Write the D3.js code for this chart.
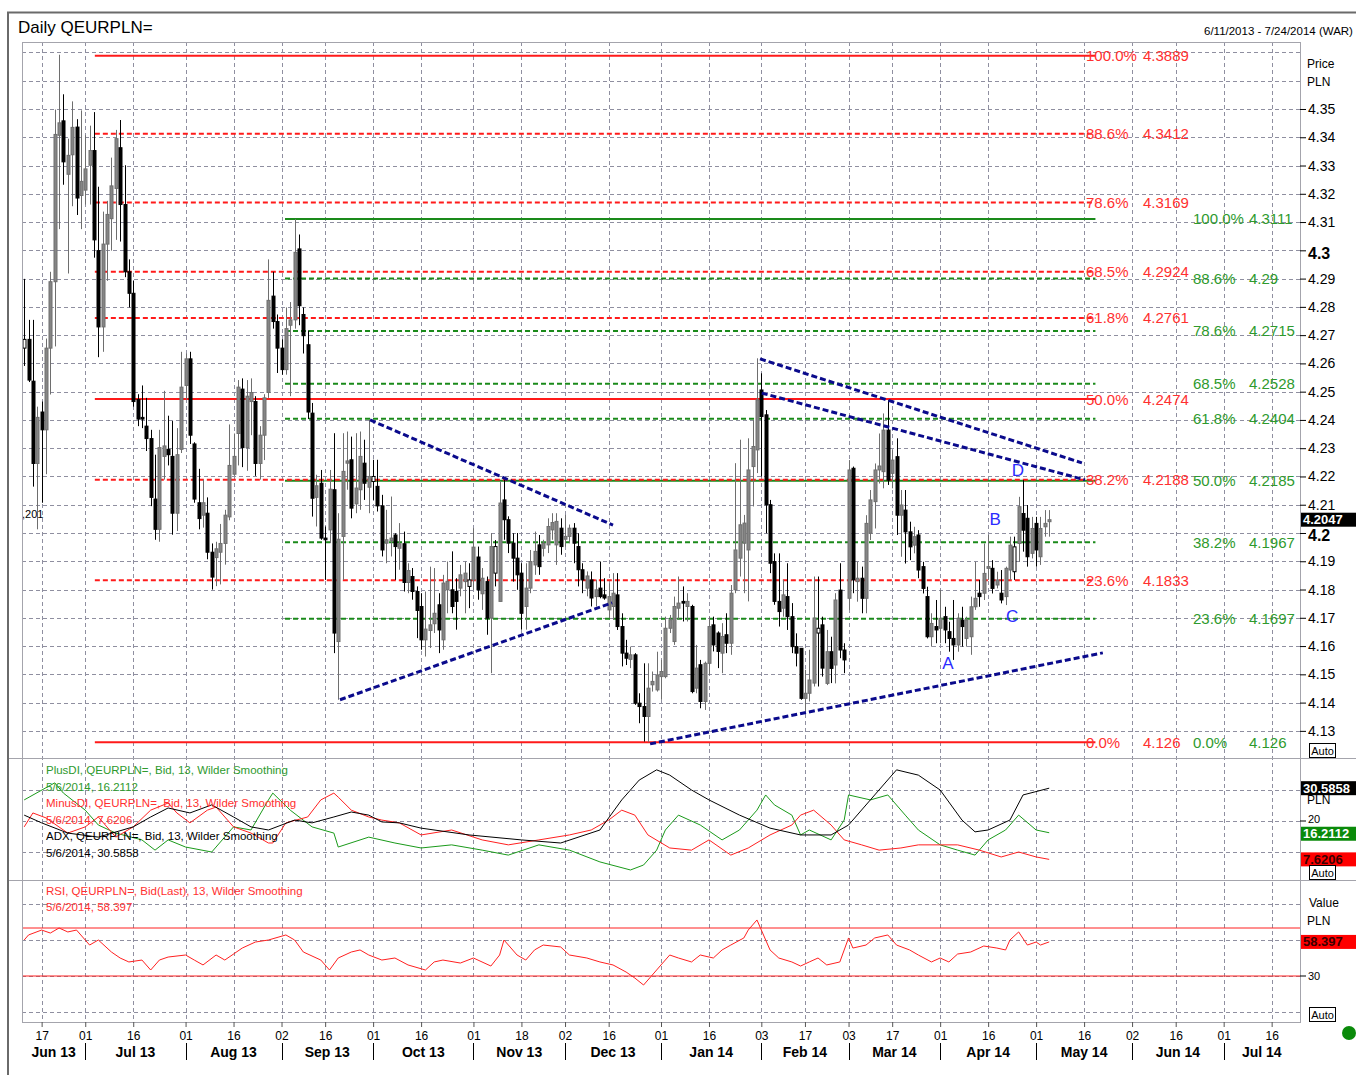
<!DOCTYPE html>
<html>
<head>
<meta charset="utf-8">
<script src="https://cdn.jsdelivr.net/npm/d3@7"></script>
<style>
  body { margin: 0; background: #fff; }
  text { font-family: "Liberation Sans", Arial, sans-serif; }
  .narrow { font-family: "Liberation Sans Narrow", "Arial Narrow", "Liberation Sans", sans-serif; }
</style>
</head>
<body>
<svg id="chart" width="1356" height="1075"></svg>
<script>
// ---- data ----
const firstDay = new Date(2013, 5, 11), lastDay = new Date(2014, 6, 24);

const openPrice = [4.2654,4.2685,4.2537,4.2246,4.2428,4.2365,4.2654,4.2889,4.3407,4.3458,4.3269,4.3338,4.3436,4.3194,4.3213,4.3301,4.3353,4.2999,4.2729,4.3022,
  4.3112,4.3219,4.3363,4.3162,4.2924,4.2848,4.2472,4.2409,4.2378,4.2334,4.2120,4.2013,4.2271,4.2296,4.2271,4.2070,4.2296,4.2522,4.2616,4.2315,
  4.2107,4.2063,4.2070,4.1932,4.1913,4.1932,4.1963,4.2057,4.2208,4.2352,4.2509,4.2302,4.2465,4.2465,4.2246,4.2346,4.2497,4.2838,4.2748,4.2654,
  4.2578,4.2735,4.2754,4.3005,4.2773,4.2666,4.2424,4.2126,4.2176,4.1982,4.2011,4.2153,4.1616,4.1988,4.2247,4.2259,4.2103,4.2153,4.2247,4.2162,
  4.2182,4.2165,4.2096,4.1964,4.1973,4.1993,4.1946,4.1962,4.1825,4.1846,4.1793,4.1740,4.1622,4.1655,4.1679,4.1746,4.1622,4.1799,4.1799,4.1793,
  4.1805,4.1828,4.1811,4.1834,4.1915,4.1785,4.1828,4.1699,4.1858,4.1758,4.2117,4.2047,4.1964,4.1911,4.1858,4.1740,4.1805,4.1887,4.1958,4.1946,
  4.1958,4.2011,4.1958,4.2017,4.1978,4.1988,4.2017,4.1952,4.1870,4.1805,4.1834,4.1775,4.1805,4.1781,4.1728,4.1740,4.1781,4.1669,4.1575,4.1553,
  4.1569,4.1398,4.1386,4.1351,4.1463,4.1445,4.1492,4.1492,4.1663,4.1616,4.1734,4.1758,4.1740,4.1740,4.1451,4.1534,4.1404,4.1539,4.1675,4.1646,
  4.1575,4.1640,4.1610,4.1799,4.1911,4.1964,4.1940,4.2235,4.2294,4.2506,4.2418,4.2100,4.1899,4.1758,4.1734,4.1775,4.1704,4.1598,4.1592,4.1415,
  4.1433,4.1469,4.1646,4.1675,4.1468,4.1580,4.1533,4.1798,4.1586,4.1769,4.2229,4.1828,4.1840,4.1769,4.1999,4.2111,4.2223,4.2217,4.2364,4.2211,
  4.2270,4.2063,4.2081,4.2004,4.1957,4.1993,4.1881,4.1775,4.1633,4.1669,4.1663,4.1704,4.1651,4.1627,4.1604,4.1692,4.1627,4.1633,4.1739,4.1787,
  4.1787,4.1875,4.1875,4.1816,4.1787,4.1775,4.1869,4.1863,4.1963,4.2069,4.2052,4.1928,4.2034,4.1916,4.2022,4.2040];
const highPrice = [4.2899,4.2754,4.2754,4.2447,4.2465,4.2688,4.2924,4.3498,4.3692,4.3552,4.3395,4.3527,4.3464,4.3495,4.3407,4.3441,4.3489,4.3225,4.3137,4.3175,
  4.3328,4.3426,4.3461,4.3301,4.2968,4.2892,4.2491,4.2522,4.2478,4.2365,4.2277,4.2365,4.2503,4.2415,4.2396,4.2371,4.2641,4.2635,4.2641,4.2321,
  4.2227,4.2189,4.2126,4.1963,4.1969,4.2032,4.2082,4.2384,4.2352,4.2541,4.2547,4.2541,4.2547,4.2484,4.2378,4.2491,4.2968,4.2924,4.2773,4.2685,
  4.2798,4.2817,4.3111,4.3056,4.2798,4.2717,4.2460,4.2206,4.2223,4.2023,4.2223,4.2353,4.2070,4.2353,4.2359,4.2341,4.2353,4.2359,4.2330,4.2400,
  4.2259,4.2259,4.2135,4.2082,4.2129,4.1999,4.2035,4.2005,4.1893,4.1876,4.1811,4.1787,4.1793,4.1881,4.1876,4.1787,4.1852,4.1899,4.1935,4.1840,
  4.1887,4.1899,4.1893,4.2017,4.1952,4.1876,4.1846,4.1999,4.1975,4.2182,4.2188,4.2059,4.1999,4.2000,4.1893,4.1893,4.1940,4.2005,4.1993,4.1976,
  4.2052,4.2070,4.2070,4.2052,4.2064,4.2030,4.2035,4.1999,4.1893,4.1864,4.1864,4.1835,4.1899,4.1840,4.1822,4.1858,4.1858,4.1716,4.1622,4.1598,
  4.1575,4.1433,4.1539,4.1539,4.1510,4.1580,4.1551,4.1704,4.1710,4.1775,4.1846,4.1811,4.1787,4.1746,4.1604,4.1551,4.1545,4.1704,4.1704,4.1652,
  4.1681,4.1716,4.1816,4.2247,4.2330,4.2064,4.2335,4.2400,4.2618,4.2565,4.2435,4.2117,4.1928,4.1928,4.1834,4.1893,4.1752,4.1645,4.1592,4.1516,
  4.1587,4.1846,4.1846,4.1704,4.1657,4.1633,4.1787,4.1893,4.1610,4.2258,4.2235,4.1898,4.1881,4.2063,4.2152,4.2246,4.2352,4.2423,4.2470,4.2293,
  4.2335,4.2152,4.2152,4.2040,4.2022,4.2010,4.1898,4.1810,4.1716,4.1763,4.1798,4.1739,4.1686,4.1763,4.1716,4.1739,4.1704,4.1775,4.1898,4.1834,
  4.1963,4.1993,4.1904,4.1863,4.1869,4.1881,4.1987,4.1987,4.2128,4.2187,4.2099,4.2057,4.2057,4.2057,4.2081,4.2081];
const lowPrice = [4.2591,4.2534,4.2164,4.2013,4.2107,4.2208,4.2490,4.2660,4.3075,4.3232,4.2918,4.3156,4.3125,4.3075,4.3162,4.3162,4.2974,4.2622,4.2641,4.2892,
  4.2999,4.3037,4.3031,4.2905,4.2798,4.2447,4.2378,4.2371,4.2290,4.2095,4.1976,4.1969,4.2189,4.2239,4.1994,4.2007,4.2283,4.2472,4.2315,4.2107,
  4.2013,4.2019,4.1907,4.1800,4.1812,4.1818,4.1888,4.2045,4.2202,4.2239,4.2233,4.2220,4.2346,4.2202,4.2189,4.2258,4.2478,4.2723,4.2566,4.2560,
  4.2560,4.2484,4.2723,4.2735,4.2635,4.2403,4.2058,4.2023,4.1976,4.1834,4.1964,4.1575,4.1410,4.1834,4.2153,4.2052,4.2070,4.2082,4.2117,4.2070,
  4.2117,4.2076,4.1917,4.1893,4.1917,4.1834,4.1870,4.1793,4.1787,4.1764,4.1628,4.1587,4.1563,4.1593,4.1646,4.1575,4.1587,4.1716,4.1716,4.1658,
  4.1776,4.1716,4.1734,4.1799,4.1764,4.1728,4.1640,4.1504,4.1811,4.1758,4.1976,4.1929,4.1828,4.1799,4.1658,4.1658,4.1787,4.1852,4.1852,4.1917,
  4.1929,4.1976,4.1887,4.1923,4.1952,4.1964,4.1893,4.1811,4.1787,4.1776,4.1740,4.1740,4.1769,4.1764,4.1699,4.1693,4.1657,4.1528,4.1533,4.1522,
  4.1392,4.1327,4.1262,4.1260,4.1439,4.1439,4.1410,4.1486,4.1646,4.1604,4.1693,4.1687,4.1687,4.1433,4.1433,4.1380,4.1374,4.1498,4.1581,4.1522,
  4.1504,4.1575,4.1569,4.1787,4.1846,4.1787,4.1758,4.2094,4.2212,4.2200,4.1999,4.1858,4.1746,4.1669,4.1704,4.1657,4.1575,4.1528,4.1410,4.1368,
  4.1404,4.1457,4.1457,4.1492,4.1462,4.1469,4.1468,4.1557,4.1504,4.1728,4.1787,4.1757,4.1716,4.1716,4.1975,4.2016,4.2175,4.2158,4.2170,4.2158,
  4.1993,4.1916,4.1892,4.1904,4.1928,4.1840,4.1786,4.1627,4.1598,4.1610,4.1610,4.1610,4.1580,4.1551,4.1580,4.1598,4.1598,4.1569,4.1728,4.1739,
  4.1763,4.1834,4.1786,4.1804,4.1751,4.1745,4.1834,4.1834,4.1898,4.1934,4.1881,4.1910,4.1881,4.1887,4.1987,4.1987];
const closePrice = [4.2685,4.2541,4.2246,4.2409,4.2365,4.2654,4.2889,4.3410,4.3451,4.3313,4.3336,4.3435,4.3185,4.3244,4.3288,4.3353,4.3037,4.2729,4.3022,4.3127,
  4.3228,4.3395,4.3162,4.2924,4.2848,4.2465,4.2403,4.2403,4.2334,4.2126,4.2013,4.2302,4.2308,4.2277,4.2070,4.2277,4.2516,4.2616,4.2346,4.2120,
  4.2051,4.2107,4.1932,4.1844,4.1944,4.1963,4.2063,4.2239,4.2271,4.2516,4.2302,4.2484,4.2497,4.2246,4.2346,4.2478,4.2823,4.2748,4.2654,4.2578,
  4.2723,4.2754,4.2993,4.2804,4.2698,4.2428,4.2123,4.2167,4.1982,4.1976,4.2155,4.1646,4.1978,4.2218,4.2255,4.2088,4.2159,4.2271,4.2176,4.2200,
  4.2200,4.2096,4.1940,4.1976,4.1982,4.1952,4.1962,4.1825,4.1867,4.1793,4.1726,4.1622,4.1660,4.1675,4.1716,4.1657,4.1823,4.1829,4.1740,4.1758,
  4.1852,4.1858,4.1834,4.1950,4.1799,4.1840,4.1699,4.1952,4.1952,4.2106,4.2047,4.1964,4.1911,4.1852,4.1716,4.1805,4.1899,4.1935,4.1881,4.1964,
  4.2023,4.2037,4.2041,4.1952,4.1988,4.2017,4.1964,4.1870,4.1834,4.1848,4.1770,4.1799,4.1775,4.1770,4.1775,4.1787,4.1669,4.1575,4.1557,4.1569,
  4.1398,4.1386,4.1351,4.1451,4.1475,4.1498,4.1510,4.1663,4.1693,4.1740,4.1752,4.1752,4.1758,4.1439,4.1522,4.1404,4.1539,4.1669,4.1604,4.1581,
  4.1634,4.1610,4.1787,4.1940,4.2029,4.2035,4.2223,4.2306,4.2471,4.2412,4.2100,4.1893,4.1758,4.1722,4.1781,4.1704,4.1598,4.1575,4.1415,4.1433,
  4.1480,4.1699,4.1663,4.1522,4.1580,4.1521,4.1763,4.1586,4.1551,4.2223,4.1834,4.1840,4.1769,4.2034,4.2117,4.2223,4.2237,4.2364,4.2187,4.2258,
  4.2063,4.2099,4.2004,4.1951,4.1987,4.1869,4.1804,4.1633,4.1680,4.1657,4.1698,4.1657,4.1627,4.1604,4.1698,4.1669,4.1692,4.1739,4.1769,4.1775,
  4.1857,4.1881,4.1804,4.1834,4.1763,4.1875,4.1957,4.1951,4.2093,4.2010,4.1916,4.2016,4.1940,4.2016,4.2034,4.2047];

// fibonacci retracements: red swing 4.126 -> 4.3688, green swing 4.126 -> 4.3111
const fibLabels = ["100.0%", "88.6%", "78.6%", "68.5%", "61.8%", "50.0%", "38.2%", "23.6%", "0.0%"];
const redFib = [4.3688, 4.3412, 4.3169, 4.2924, 4.2761, 4.2474, 4.2188, 4.1833, 4.126];
const redFibText = ["4.3889", "4.3412", "4.3169", "4.2924", "4.2761", "4.2474", "4.2188", "4.1833", "4.126"];
const greenFib = [4.3111, 4.29, 4.2715, 4.2528, 4.2404, 4.2185, 4.1967, 4.1697, 4.126];
const greenFibText = ["4.3111", "4.29", "4.2715", "4.2528", "4.2404", "4.2185", "4.1967", "4.1697", "4.126"];
const solidFib = ["100.0%", "50.0%", "0.0%"];
const redFibFrom = 16.2, greenFibFrom = 59.8, fibTo = 245.6;   // trading-day index

// trend lines [day index, price]
const trendLines = [
  [[72.4, 4.1410], [134.8, 4.1753]],
  [[79.3, 4.2400], [135.0, 4.2028]],
  [[143.5, 4.1254], [247.3, 4.1576]],
  [[168.7, 4.2616], [242.5, 4.2248]],
  [[169.1, 4.2495], [243.2, 4.2188]]
];
const waveNames = ["A", "B", "C", "D"];
const waveDay = [211.8, 222.6, 226.5, 227.8];
const wavePrice = [4.154, 4.2046, 4.1703, 4.222];

// indicators [day index, value]
const plusDI = [[0,26.8],[7,32.3],[9,29],[14,23.5],[17,18.7],[21,16.1],[27,13.9],[30,10.6],[33,13.9],[37,11.6],[43,10],[48,18.1],[52,17.1],[56,26.8],[57,29],
  [61,23.5],[66,18.1],[71,16.1],[72,11.6],[79,14.8],[85,12.9],[91,11.3],[98,12.3],[105,10.6],[111,9],[118,12.3],[125,10.6],[132,6.8],[139,4.2],[142,5.8],
  [145,10.6],[147,17.1],[150,21.9],[155,18.7],[160,13.9],[164,17.1],[168,23.5],[170,28.4],[172,25.2],[176,21.9],[178,15.5],[180,17.1],[185,13.9],[188,20.3],
  [189,28.4],[194,26.8],[198,28.4],[202,21.9],[205,17.1],[210,12.3],[214,10.6],[218,9],[221,13.9],[225,17.1],[228,21.9],[232,17.1],[235,16.2112]];
const minusDI = [[0,18.1],[2,22.6],[5,21],[10,16.1],[14,18.1],[17,21.3],[21,14.8],[25,18.1],[29,23.5],[33,25.8],[35,22.6],[38,19.4],[42,23.5],[44,24.5],
  [48,18.1],[52,16.1],[56,12.9],[57,12.9],[60,19.4],[65,21.3],[68,26.8],[71,29],[72,27.7],[75,23.5],[79,21.3],[82,20.3],[86,19.4],[91,15.5],[98,17.1],
  [105,13.9],[111,12.3],[118,13.9],[125,15.5],[130,17.1],[134,20.3],[137,23.5],[140,21.9],[143,15.5],[148,11.3],[153,10.6],[157,13.9],[162,9],[166,11.3],
  [171,15.5],[176,18.7],[178,21.9],[181,23.5],[185,18.7],[188,13.9],[192,12.3],[196,10.6],[201,11.3],[205,12.3],[210,12.3],[214,12.3],[219,10.6],[224,8.4],
  [228,10],[232,8.4],[235,7.6206]];
const adx = [[0,21.9],[4,19.4],[10,16.1],[17,14.8],[25,18.1],[29,21.3],[33,24.2],[38,22.6],[43,25.2],[48,21.3],[52,18.1],[56,17.1],[62,20.3],[66,19.4],
  [71,21.3],[75,22.9],[79,21.9],[82,19.7],[86,19.4],[91,17.7],[102,15.5],[114,13.9],[123,12.9],[132,17.1],[137,26.8],[141,33.2],[145,36.5],[148,34.8],
  [153,30],[157,26.8],[164,21.9],[171,17.7],[178,15.5],[185,15.5],[189,18.7],[194,26.8],[200,36.5],[205,34.8],[210,30],[215,20.3],[218,16.5],[221,17.1],
  [226,20.3],[229,28.4],[235,30.5858]];
const rsi = [[0,60],[1,64.2],[4,68.3],[6,65.8],[8,70],[10,66.7],[12,68.3],[15,55.8],[17,60],[20,50],[22,45],[24,41.7],[27,43.3],[29,35],[31,43.3],
  [33,45.8],[37,47.5],[39,43.3],[41,39.2],[44,47.5],[46,43.3],[50,53.3],[53,58.3],[56,60],[60,64.2],[62,60],[64,50],[68,43.3],[70,35],[72,45],[75,50],
  [77,51.7],[79,47.5],[82,43.3],[85,45],[88,39.2],[92,35],[94,41.7],[96,43.3],[100,40.8],[103,45],[107,38.3],[109,47.5],[110,60],[113,47.5],[115,43.3],
  [117,51.7],[119,55.8],[123,54.2],[125,47.5],[129,45],[132,41.7],[135,39.2],[138,33.3],[140,28.3],[142,22.5],[144,30.8],[146,39.2],[148,47.5],[150,45],
  [153,41.7],[155,47.5],[158,45],[160,51.7],[162,55.8],[165,61.7],[166,68.3],[168,76.7],[170,60],[171,51.7],[173,45],[176,41.7],[178,38.3],[180,41.7],
  [182,45],[184,39.2],[187,41.7],[189,61.7],[190,53.3],[193,55.8],[195,61.7],[198,64.2],[200,55.8],[203,51.7],[205,47.5],[208,41.7],[210,45],[212,41.7],
  [214,48.3],[217,50],[220,55],[223,53.3],[225,51.7],[226,60],[228,66.7],[230,55.8],[232,58.3],[233,55.8],[235,58.397]];

const priceTicks = d3.range(413, 436).map(v => v / 100);
const priceGrid = d3.range(413, 438).map(v => v / 100);

// ---- layout ----
const plotLeft = 22, plotRight = 1300, plotTop = 42, mainBottom = 758, dmiBottom = 880, plotBottom = 1022;
const svg = d3.select("#chart");
const gridColor = "#8f8fa0";

const days = d3.timeDay.range(firstDay, d3.timeDay.offset(lastDay, 1)).filter(d => d.getDay() !== 0 && d.getDay() !== 6);
const x = d3.scaleLinear().domain([-0.5, days.length - 0.5]).range([plotLeft, plotRight]);
const y = d3.scaleLinear().domain([4.1204, 4.3737]).range([mainBottom, plotTop]);
const yD = d3.scaleLinear().domain([0, 40]).range([883, 759]);
const yR = d3.scaleLinear().domain([0, 100]).range([1012, 892]);

// date ticks: first trading day on/after the 1st and 16th
const tickIdx = [];
const monthIdx = [];
d3.timeMonth.range(d3.timeMonth.floor(firstDay), lastDay).forEach(m => {
  [1, 16].forEach(dd => {
    const target = new Date(m.getFullYear(), m.getMonth(), dd);
    const i = days.findIndex(d => d >= target);
    if (i >= 0 && (days[i] - target) < 4 * 864e5) {
      tickIdx.push(i);
      if (dd === 1) monthIdx.push(i);
    }
  });
});

svg.append("rect").attr("width", 1356).attr("height", 1075).attr("fill", "#fff");

// clip paths for the panels
const defs = svg.append("defs");
[["clipMain", plotTop, mainBottom], ["clipDmi", mainBottom, dmiBottom], ["clipRsi", dmiBottom, plotBottom]].forEach(([id, y0, y1]) => {
  defs.append("clipPath").attr("id", id).append("rect")
    .attr("x", plotLeft).attr("y", y0).attr("width", plotRight - plotLeft).attr("height", y1 - y0);
});

// ---- grid ----
const grid = svg.append("g").attr("stroke", gridColor).attr("stroke-dasharray", "4,3").attr("stroke-width", 1);
grid.selectAll(".vg").data(tickIdx).join("line")
  .attr("x1", d => Math.round(x(d)) + 0.5).attr("x2", d => Math.round(x(d)) + 0.5)
  .attr("y1", plotTop).attr("y2", plotBottom);
grid.selectAll(".hg").data(priceGrid).join("line")
  .attr("x1", plotLeft).attr("x2", plotRight)
  .attr("y1", d => Math.round(y(d)) + 0.5).attr("y2", d => Math.round(y(d)) + 0.5);
grid.selectAll(".dg").data([10, 20, 30]).join("line")
  .attr("x1", plotLeft).attr("x2", plotRight)
  .attr("y1", d => Math.round(yD(d)) + 0.5).attr("y2", d => Math.round(yD(d)) + 0.5);
grid.selectAll(".rg").data([0, 30, 60, 90]).join("line")
  .attr("x1", plotLeft).attr("x2", plotRight)
  .attr("y1", d => Math.round(yR(d)) + 0.5).attr("y2", d => Math.round(yR(d)) + 0.5);

// ---- fibonacci lines ----
const fib = svg.append("g").attr("clip-path", "url(#clipMain)");
function drawFib(levels, from, color) {
  fib.append("g").selectAll("line").data(levels).join("line")
    .attr("x1", x(from)).attr("x2", x(fibTo))
    .attr("y1", d => y(d)).attr("y2", d => y(d))
    .attr("stroke", color).attr("stroke-width", 2)
    .attr("stroke-dasharray", (d, i) => solidFib.includes(fibLabels[i]) ? null : "5,3");
}
drawFib(greenFib.slice(0, 8), greenFibFrom, "#1a8a1a");
drawFib(redFib, redFibFrom, "#ff1a1a");

// ---- candles ----
const candles = svg.append("g").attr("clip-path", "url(#clipMain)");
const kind = closePrice.map((c, i) => c < openPrice[i] ? "down" : (i > 0 && c > closePrice[i - 1] ? "gray" : "white"));
const wickColor = { down: "#000", gray: "#6e6e6e", white: "#000" };
const bodyFill = { down: "#000", gray: "#858585", white: "#fff" };
candles.selectAll("line").data(closePrice).join("line")
  .attr("x1", (d, i) => Math.round(x(i)) + 0.5).attr("x2", (d, i) => Math.round(x(i)) + 0.5)
  .attr("y1", (d, i) => y(highPrice[i])).attr("y2", (d, i) => y(lowPrice[i]))
  .attr("stroke", (d, i) => wickColor[kind[i]]).attr("stroke-width", 1);
candles.selectAll("rect").data(closePrice).join("rect")
  .attr("x", (d, i) => Math.round(x(i)) - 1)
  .attr("width", 3)
  .attr("y", (d, i) => y(Math.max(d, openPrice[i])))
  .attr("height", (d, i) => Math.max(1, Math.abs(y(d) - y(openPrice[i]))))
  .attr("fill", (d, i) => bodyFill[kind[i]])
  .attr("stroke", (d, i) => wickColor[kind[i]]).attr("stroke-width", 1);

// ---- trend lines & wave labels ----
const trend = svg.append("g").attr("clip-path", "url(#clipMain)");
trend.selectAll("line").data(trendLines).join("line")
  .attr("x1", d => x(d[0][0])).attr("y1", d => y(d[0][1]))
  .attr("x2", d => x(d[1][0])).attr("y2", d => y(d[1][1]))
  .attr("stroke", "#0a0a8c").attr("stroke-width", 3).attr("stroke-dasharray", "6,3");
svg.append("g").selectAll("text").data(waveNames).join("text")
  .attr("x", (d, i) => x(waveDay[i])).attr("y", (d, i) => y(wavePrice[i]))
  .attr("text-anchor", "middle").attr("dominant-baseline", "central")
  .attr("font-size", "17px").attr("fill", "#2b2bff").text(d => d);

// ---- fib labels ----
const fibText = svg.append("g").attr("font-size", "15px");
fibText.selectAll(".rp").data(redFib).join("text")
  .attr("x", 1086).attr("y", d => y(d)).attr("dominant-baseline", "central")
  .attr("fill", "#ff3030").text((d, i) => fibLabels[i]);
fibText.selectAll(".rv").data(redFib).join("text")
  .attr("x", 1143).attr("y", d => y(d)).attr("dominant-baseline", "central")
  .attr("fill", "#ff3030").text((d, i) => redFibText[i]);
fibText.selectAll(".gp").data(greenFib).join("text")
  .attr("x", 1193).attr("y", d => y(d)).attr("dominant-baseline", "central")
  .attr("fill", "#2e9a2e").text((d, i) => fibLabels[i]);
fibText.selectAll(".gv").data(greenFib).join("text")
  .attr("x", 1249).attr("y", d => y(d)).attr("dominant-baseline", "central")
  .attr("fill", "#2e9a2e").text((d, i) => greenFibText[i]);

// ---- indicator lines ----
const dmi = svg.append("g").attr("clip-path", "url(#clipDmi)").attr("fill", "none").attr("stroke-width", 1);
const dLine = d3.line().x(d => x(d[0])).y(d => yD(d[1]));
dmi.append("path").attr("d", dLine(plusDI)).attr("stroke", "#1a9a1a");
dmi.append("path").attr("d", dLine(minusDI)).attr("stroke", "#ff2020");
dmi.append("path").attr("d", dLine(adx)).attr("stroke", "#000");

const rsiG = svg.append("g").attr("clip-path", "url(#clipRsi)");
rsiG.selectAll("line").data([70, 30]).join("line")
  .attr("x1", plotLeft).attr("x2", plotRight).attr("y1", d => yR(d)).attr("y2", d => yR(d))
  .attr("stroke", "#ff2020").attr("stroke-width", 1);
rsiG.append("path").attr("d", d3.line().x(d => x(d[0])).y(d => yR(d[1]))(rsi))
  .attr("fill", "none").attr("stroke", "#ff2020").attr("stroke-width", 1);

// ---- legends ----
const legend = [
  ["PlusDI, QEURPLN=, Bid,  13, Wilder Smoothing", "#2e9a2e", 774],
  ["5/6/2014, 16.2112", "#2e9a2e", 791],
  ["MinusDI, QEURPLN=, Bid,  13, Wilder Smoothing", "#ff3030", 807],
  ["5/6/2014, 7.6206", "#ff3030", 824],
  ["ADX, QEURPLN=, Bid, 13, Wilder Smoothing", "#000", 840],
  ["5/6/2014, 30.5858", "#000", 857],
  ["RSI, QEURPLN=, Bid(Last), 13, Wilder Smoothing", "#ff3030", 895],
  ["5/6/2014, 58.397", "#ff3030", 911]
];
svg.append("g").attr("font-size", "11.5px").selectAll("text").data(legend).join("text")
  .attr("x", 46).attr("y", d => d[2]).attr("fill", d => d[1]).text(d => d[0]);
svg.append("text").attr("x", 22).attr("y", 518).attr("font-size", "11px").text(",201");

// ---- frames ----
const frame = svg.append("g").attr("stroke", "#a4a4ac").attr("fill", "none");
frame.append("rect").attr("x", plotLeft + 0.5).attr("y", plotTop + 0.5).attr("width", plotRight - plotLeft).attr("height", plotBottom - plotTop);
frame.selectAll(".sep").data([mainBottom, dmiBottom]).join("line")
  .attr("x1", 8).attr("x2", 1356).attr("y1", d => d + 0.5).attr("y2", d => d + 0.5);
svg.append("path").attr("d", "M8,1075V12.5H1356").attr("stroke", "#6a6a6a").attr("stroke-width", 2).attr("fill", "none");

// ---- price axis ----
const axisP = svg.append("g").attr("transform", `translate(${plotRight},0)`)
  .call(d3.axisRight(y).tickValues(priceTicks).tickSize(6).tickPadding(2)
    .tickFormat(d => (Math.round(d * 100) % 10 === 0) ? d3.format(".1f")(d) : d3.format(".2f")(d)));
axisP.select(".domain").remove();
axisP.selectAll("line").attr("stroke", "#000");
axisP.selectAll("text").attr("font-size", "14px").attr("fill", "#000")
  .filter(d => Math.round(d * 100) % 10 === 0)
  .attr("font-size", "16px").attr("font-weight", "bold").attr("dy", "0.5em");

const unitText = [["Price", 1307, 68], ["PLN", 1307, 86], ["PLN", 1307, 804], ["Value", 1309, 907], ["PLN", 1307, 925]];
svg.append("g").attr("font-size", "12px").selectAll("text").data(unitText).join("text")
  .attr("x", d => d[1]).attr("y", d => d[2]).text(d => d[0]);

// small axis ticks for indicator panels
svg.append("g").selectAll("line").data([yD(20), yR(30)]).join("line")
  .attr("x1", plotRight).attr("x2", plotRight + 6).attr("y1", d => d).attr("y2", d => d).attr("stroke", "#000");
svg.append("g").attr("font-size", "11px").selectAll("text").data([["20", yD(20) - 2], ["30", yR(30)]]).join("text")
  .attr("x", 1308).attr("y", d => d[1]).attr("dominant-baseline", "central").text(d => d[0]);

// value boxes
const boxes = [
  ["4.2047", y(4.2047), "#000", "#fff"],
  ["30.5858", yD(30.5858), "#000", "#fff"],
  ["16.2112", yD(16.2112) + 1, "#0a8a0a", "#fff"],
  ["7.6206", yD(7.6206), "#ff0000", "#3a0000"],
  ["58.397", yR(58.397), "#ff0000", "#3a0000"]
];
const box = svg.append("g").selectAll("g").data(boxes).join("g")
  .attr("transform", d => `translate(1301,${d[1] - 7})`);
box.append("rect").attr("width", 56).attr("height", 14).attr("fill", d => d[2]);
box.append("text").attr("x", 2).attr("y", 7).attr("dominant-baseline", "central")
  .attr("font-size", "13px").attr("font-weight", "bold").attr("fill", d => d[3]).text(d => d[0]);

// "Auto" buttons
const autoY = [743, 865, 1007];
const auto = svg.append("g").selectAll("g").data(autoY).join("g")
  .attr("transform", d => `translate(1309.5,${d + 0.5})`);
auto.append("rect").attr("width", 26).attr("height", 14).attr("fill", "#fff").attr("stroke", "#000");
auto.append("text").attr("x", 13).attr("y", 7).attr("text-anchor", "middle").attr("dominant-baseline", "central")
  .attr("font-size", "11px").text("Auto");

// ---- date axis ----
const fmtDay = d3.timeFormat("%d"), fmtMonth = d3.timeFormat("%b %y");
const axisD = svg.append("g").attr("transform", `translate(0,${plotBottom})`)
  .call(d3.axisBottom(x).tickValues(tickIdx).tickSize(5).tickPadding(4).tickFormat(i => fmtDay(days[i])));
axisD.select(".domain").remove();
axisD.selectAll("line").attr("stroke", "#555");
axisD.selectAll("text").attr("font-size", "12px").attr("fill", "#000").attr("class", "narrow");

svg.append("g").selectAll("line").data(monthIdx).join("line")
  .attr("x1", d => Math.round(x(d)) + 0.5).attr("x2", d => Math.round(x(d)) + 0.5)
  .attr("y1", 1043).attr("y2", 1060).attr("stroke", "#000");

const bounds = [plotLeft, ...monthIdx.map(i => x(i)), plotRight];
const monthStarts = [days[0], ...monthIdx.map(i => days[i])];
svg.append("g").selectAll("text").data(monthStarts).join("text")
  .attr("class", "narrow")
  .attr("x", (d, i) => (bounds[i] + bounds[i + 1]) / 2).attr("y", 1057)
  .attr("text-anchor", "middle").attr("font-size", "14px").attr("font-weight", "bold")
  .text(d => fmtMonth(d));

// ---- title ----
svg.append("text").attr("x", 18).attr("y", 33).attr("font-size", "17px").text("Daily QEURPLN=");
svg.append("text").attr("x", 1204).attr("y", 35).attr("font-size", "11.5px").text("6/11/2013 - 7/24/2014 (WAR)");
svg.append("circle").attr("cx", 1349).attr("cy", 1033).attr("r", 7).attr("fill", "#0a8a0a");
</script>
</body>
</html>
